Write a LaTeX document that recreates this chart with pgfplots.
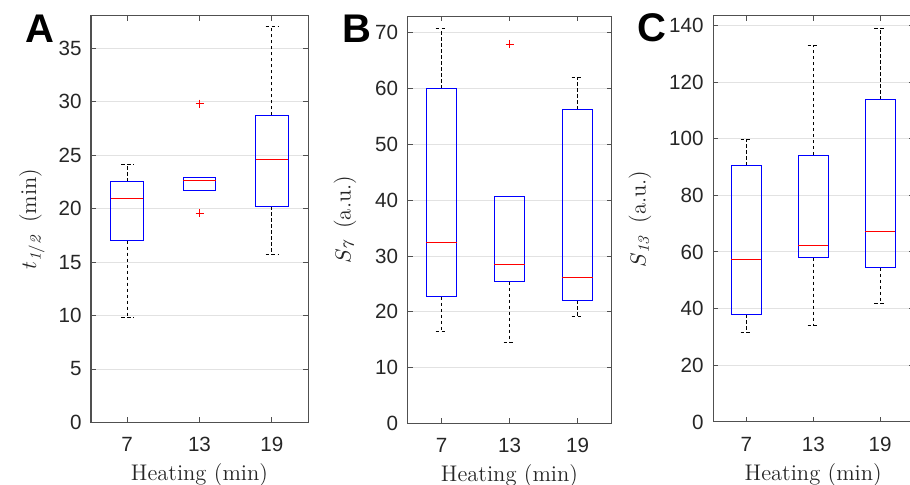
\documentclass[border=0pt]{standalone}
\usepackage{fontspec}
\usepackage{pgfplots}
\pgfplotsset{compat=1.18}
\usepgfplotslibrary{statistics}

\newfontfamily\ticksf{Liberation Sans}
\newfontfamily\panelsf{Liberation Sans}

\definecolor{mlblue}{RGB}{0,0,255}
\definecolor{mlred}{RGB}{255,0,0}
\definecolor{axgray}{RGB}{80,80,80}
\definecolor{txtgray}{RGB}{38,38,38}
\definecolor{gridgray}{RGB}{226,226,226}

\tikzset{
  mlwhisk/.style={draw=black, line width=0.5pt, dash pattern=on 1.75pt off 1.25pt},
  mlbox/.style={draw=mlblue, line width=0.5pt, solid},
  mlmed/.style={draw=mlred, line width=0.5pt, solid},
}

\pgfplotsset{
  mlbp/.style={
    boxplot/every box/.style={mlbox},
    boxplot/every median/.style={mlmed},
    boxplot/every whisker/.style={mlwhisk},
  },
  ml/.style={
    scale only axis,
    anchor=south west,
    xmin=0.5, xmax=3.5, ymin=0,
    xtick={1,2,3}, xticklabels={7,13,19},
    xtick pos=both, ytick pos=both,
    xticklabel pos=left, yticklabel pos=left,
    tick align=inside,
    major tick length=2.5pt,
    ymajorgrids,
    grid style={draw=gridgray, line width=0.5pt},
    axis line style={draw=axgray, line width=0.5pt},
    tick style={draw=axgray, line width=0.5pt},
    /pgf/number format/assume math mode=true,
    tick label style={font=\ticksf\fontsize{10.3}{12}\selectfont, text=txtgray},
    xticklabel style={anchor=base, yshift=-14.6pt},
    yticklabel style={anchor=east, inner sep=0pt, xshift=-4.5pt},
    label style={font=\fontsize{11.3}{13}\selectfont, text=txtgray},
    xlabel={Heating (min)},
    xlabel style={at={(axis description cs:0.5,0)}, anchor=base, yshift=-29.25pt},
  },
}

\begin{document}
\begin{tikzpicture}
\path[use as bounding box] (0pt,0pt) rectangle (455pt,242.5pt);

% A
\begin{axis}[ml, at={(45.5pt,31.25pt)}, width=108.5pt, height=203.25pt,
  ymax=38, ytick={0,5,...,35},
  ylabel={$t_{\mathit{1/2}}$\hspace{6pt}(min)},
  ylabel style={at={(axis description cs:-0.253,0.5)}, anchor=base}]
\addplot[mlred, only marks, mark=+, mark size=2pt] coordinates {(2,29.8) (2,19.55)};
\addplot[boxplot prepared={draw direction=y, box extend=0.45, whisker extend=0.17, draw position=1, lower whisker=9.8, lower quartile=17.0, median=20.9, upper quartile=22.5, upper whisker=24.1}, mlbp] coordinates {};
\addplot[boxplot prepared={draw direction=y, box extend=0.45, whisker extend=0.17, draw position=2, lower whisker=21.7, lower quartile=21.7, median=22.65, upper quartile=22.9, upper whisker=22.9}, mlbp] coordinates {};
\addplot[boxplot prepared={draw direction=y, box extend=0.45, whisker extend=0.17, draw position=3, lower whisker=15.7, lower quartile=20.2, median=24.6, upper quartile=28.7, upper whisker=37.0}, mlbp] coordinates {};
\end{axis}

% B
\begin{axis}[ml, at={(203.75pt,30.75pt)}, width=102pt, height=203.75pt,
  ymax=73, ytick={0,10,...,70},
  ylabel={$S_{\mathit{7}}$\hspace{6pt}(a.u.)},
  ylabel style={at={(axis description cs:-0.279,0.5)}, anchor=base}]
\addplot[mlred, only marks, mark=+, mark size=2pt] coordinates {(2,68.0)};
\addplot[boxplot prepared={draw direction=y, box extend=0.45, whisker extend=0.17, draw position=1, lower whisker=16.5, lower quartile=22.7, median=32.5, upper quartile=60.0, upper whisker=70.7}, mlbp] coordinates {};
\addplot[boxplot prepared={draw direction=y, box extend=0.45, whisker extend=0.17, draw position=2, lower whisker=14.55, lower quartile=25.4, median=28.4, upper quartile=40.7, upper whisker=40.7}, mlbp] coordinates {};
\addplot[boxplot prepared={draw direction=y, box extend=0.45, whisker extend=0.17, draw position=3, lower whisker=19.1, lower quartile=22.1, median=26.1, upper quartile=56.2, upper whisker=62.0}, mlbp] coordinates {};
\end{axis}

% C
\begin{axis}[ml, at={(356.5pt,31.5pt)}, width=100.25pt, height=203pt,
  ymax=143.3, ytick={0,20,...,140},
  ylabel={$S_{\mathit{13}}$\hspace{6pt}(a.u.)},
  ylabel style={at={(axis description cs:-0.336,0.5)}, anchor=base}]
\addplot[boxplot prepared={draw direction=y, box extend=0.45, whisker extend=0.17, draw position=1, lower whisker=31.5, lower quartile=38.0, median=57.5, upper quartile=90.5, upper whisker=99.8}, mlbp] coordinates {};
\addplot[boxplot prepared={draw direction=y, box extend=0.45, whisker extend=0.17, draw position=2, lower whisker=34.0, lower quartile=58.0, median=62.2, upper quartile=94.2, upper whisker=132.9}, mlbp] coordinates {};
\addplot[boxplot prepared={draw direction=y, box extend=0.45, whisker extend=0.17, draw position=3, lower whisker=41.8, lower quartile=54.4, median=67.3, upper quartile=113.8, upper whisker=138.9}, mlbp] coordinates {};
\end{axis}

% panel letters
\node[anchor=base west, inner sep=0pt, font=\panelsf\bfseries\fontsize{20}{24}\selectfont] at (12.5pt,221.2pt) {A};
\node[anchor=base west, inner sep=0pt, font=\panelsf\bfseries\fontsize{20}{24}\selectfont] at (170.85pt,221.2pt) {B};
\node[anchor=base west, inner sep=0pt, font=\panelsf\bfseries\fontsize{20}{24}\selectfont] at (318.5pt,221.7pt) {C};
\end{tikzpicture}
\end{document}
